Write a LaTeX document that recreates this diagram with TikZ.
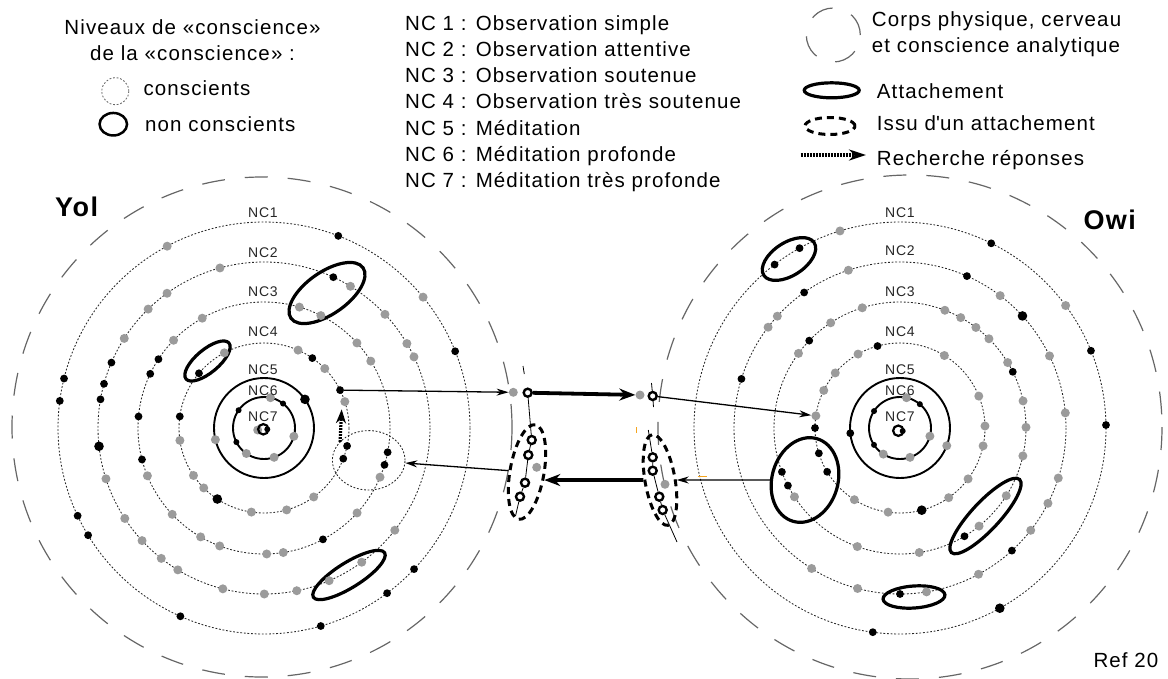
\documentclass[tikz,border=0pt]{standalone}
\usepackage{fontspec}
\setmainfont{Liberation Sans}[LetterSpace=5.5]
\usetikzlibrary{calc,shapes.geometric,arrows.meta}
\definecolor{dotgray}{RGB}{155,155,155}
\definecolor{tickorange}{RGB}{245,165,30}

\begin{document}
\begin{tikzpicture}
[x=1pt,y=-1pt,
  ringLine/.style={draw=black!85,line width=0.85pt,dash pattern=on 1.8pt off 1.8pt},
  bodyLine/.style={draw=black!60,line width=1.2pt,dash pattern=on 23pt off 20pt},
  coreRing/.style={circle,draw,line width=2.2pt,inner sep=0pt,minimum size=10.4pt},
  attach/.style={ellipse,draw,line width=3.2pt,inner sep=0pt},
  issu/.style={ellipse,draw,line width=3pt,dash pattern=on 7pt off 5pt,inner sep=0pt},
  openRing/.style={circle,draw,fill=white,line width=2.4pt,inner sep=0pt,minimum size=8pt},
  dotC/.style={circle,fill=dotgray,inner sep=0pt,minimum size=9pt},
  dotN/.style={circle,fill=black,inner sep=0pt,minimum size=7.8pt},
  dotNb/.style={dotN,minimum size=9.6pt},
  dotNs/.style={dotN,minimum size=6pt},
  thinArrow/.style={-{Stealth[length=12pt,width=7pt]},line width=1.3pt},
  thickArrow/.style={-{Stealth[length=16pt,width=12pt]},line width=3.8pt},
  searchArrow/.style={-{Stealth[length=14pt,width=10pt]},line width=3.2pt,dash pattern=on 1.8pt off 1.2pt},
  string/.style={line width=0.8pt},
  legText/.style={font=\fontsize{20.5}{24}\selectfont,inner sep=0pt,anchor=base west},
  ncLabel/.style={font=\fontsize{14}{16}\selectfont,inner sep=0pt,text=black!85},
  whoLabel/.style={font=\fontsize{27}{32}\selectfont\bfseries,inner sep=0pt,anchor=base west}]
\useasboundingbox (0,0) rectangle (1168,678);

%% centres of the two persons
\coordinate (yol) at (264,428);
\coordinate (owi) at (900,428);

%% physical body, brain and analytic mind
\draw[bodyLine] (262,427) circle (250);
\draw[bodyLine] (910,427) circle (252);

%% levels NC1 to NC4 (conscious) and NC5, NC6 (non conscious)
\foreach \r in {206,166,126,85}
{
  \draw[ringLine] (yol) circle (\r);
  \draw[ringLine] (owi) circle (\r);
}
\foreach \r in {50,31}
{
  \draw[line width=1.9pt] (yol) circle (\r);
  \draw[line width=1.9pt] (owi) circle (\r);
}

%% NC7 in the middle
\node[dotC] (yolCore) at (257.7,430) {};
\node[coreRing] (yol7) at (263.3,429.3) {};
\node[dotNs] (yolCoreN) at (267.3,429.3) {};
\node[coreRing] (owi7) at (898.3,430.7) {};
\node[dotNs] (owiCoreN) at (902.7,431) {};

%% attachments
\node[attach,minimum width=88pt,minimum height=42pt,rotate=35] (yolAttA) at (327,293) {};
\node[attach,minimum width=56pt,minimum height=23pt,rotate=40] (yolAttB) at (207.5,361) {};
\node[attach,minimum width=84pt,minimum height=25pt,rotate=32] (yolAttC) at (349,575) {};
\node[attach,minimum width=60pt,minimum height=33pt,rotate=33] (owiAttA) at (789,259) {};
\node[attach,minimum width=86pt,minimum height=66pt,rotate=74] (owiAttB) at (805,480) {};
\node[attach,minimum width=100pt,minimum height=28pt,rotate=47] (owiAttC) at (985.5,516) {};
\node[attach,minimum width=62pt,minimum height=22pt,rotate=4] (owiAttD) at (914,597) {};

%% zone searched for answers
\node[ellipse,ringLine,minimum width=72.6pt,minimum height=59.4pt,inner sep=0pt] (yolSearch) at (368.7,460.3) {};

%% thoughts of Yol, put on their level
\foreach \x/\y/\r/\kind [count=\i] in {
  168.3/248.3/206/dotC, 425.7/295/206/dotC,
  70/380/206/dotN, 66/401.7/206/dotN, 85/512.3/206/dotN, 95/531/206/dotN,
  181.7/613.3/206/dotN, 339/234/206/dotN, 458.3/350/206/dotN, 415/570/206/dotN,
  387.7/594/206/dotN, 320/623.3/206/dotN,
  220.7/270.7/166/dotC, 168.3/295/166/dotC, 151.7/312.7/166/dotC, 128.3/341/166/dotC,
  109.3/477.7/166/dotC, 125/518.3/166/dotC, 142.7/540/166/dotC, 160/560/166/dotC,
  176.7/571.7/166/dotC, 221.7/593.3/166/dotC, 351.7/284.3/166/dotC, 386.7/312.7/166/dotC,
  408.3/342.7/166/dotC, 414.3/356.7/166/dotC, 396.7/531.7/166/dotC, 365/566.7/166/dotC,
  331.7/586.7/166/dotC, 298.3/598.3/166/dotC, 264.3/601.7/166/dotC,
  111.7/362.7/166/dotN, 108.3/385/166/dotN, 104.3/400/166/dotN, 104.3/445.7/166/dotNb,
  334/275.7/166/dotN,
  201/316/126/dotC, 173.3/340/126/dotC, 149.3/475/126/dotC, 173.3/513.3/126/dotC,
  201.7/535/126/dotC, 220.7/543.3/126/dotC, 300/305/126/dotC, 321.7/314/126/dotC,
  359/341/126/dotC, 371/361/126/dotC, 379/476.7/126/dotC, 358.3/514/126/dotC,
  266.7/553.3/126/dotC, 283.3/552.7/126/dotC,
  157.7/358.7/126/dotN, 150/373.7/126/dotN, 141/416.7/126/dotN, 142.7/459.3/126/dotN,
  390/452.7/126/dotN, 387.3/465.7/126/dotN, 323.3/540/126/dotN,
  182.7/440/85/dotC, 196.7/473.3/85/dotC, 206.7/485/85/dotC, 251.7/510/85/dotC,
  225/354/85/dotC, 300/345.7/85/dotC, 324.3/369/85/dotC, 312.3/495/85/dotC,
  286.7/510/85/dotC,
  181.7/416.7/85/dotN, 219.3/496/85/dotNb, 198.3/372.7/85/dotN, 313.3/356.7/85/dotN,
  342.3/458.3/85/dotN,
  214/440/50/dotC, 305/399.3/50/dotNb,
  246/454/31/dotC, 270/400/31/dotC, 292.7/436/31/dotC, 273.3/455/31/dotC,
  239.3/410.7/31/dotNs, 234/443.3/31/dotNs, 282.7/404/31/dotNs}
{
  \node[\kind] (yolDot\i) at ($(yol)!\r pt!(\x,\y)$) {};
}
\node[dotN] (yolOut) at ($(yol)!85pt!(341.7,389.3)$) {};
\node[dotN] (yolAsk) at ($(yol)!85pt!(346,445.7)$) {};
\node[dotC] (yolBack) at ($(yol)!85pt!(347.7,400.7)$) {};

%% thoughts of Owi
\foreach \x/\y/\r/\kind [count=\i] in {
  840/231/206/dotC, 1067.3/304.3/206/dotC,
  801/250.7/206/dotN, 776.7/267.3/206/dotN, 873.3/628.3/206/dotN, 991.7/242.3/206/dotN,
  1092.7/350/206/dotN, 1106.7/425/206/dotN, 999.3/607.3/206/dotNb,
  848.3/270/166/dotC, 779/317.7/166/dotC, 771.7/330/166/dotC, 811.7/568.3/166/dotC,
  856.7/591.7/166/dotC, 1002.7/292.3/166/dotC, 1049.3/356/166/dotC, 1067.3/412.7/166/dotC,
  1062.3/479.3/166/dotC, 1049.3/504/166/dotC, 1033.3/532.3/166/dotC, 980.7/578.3/166/dotC,
  927.3/596.7/166/dotC,
  804/292.3/166/dotN, 745/380/166/dotN, 969.3/270.7/166/dotN, 1026/312.7/166/dotNb,
  1015/554/166/dotN, 900/598.3/166/dotN,
  861.7/306/126/dotC, 830/321.7/126/dotC, 799.3/354/126/dotC, 795.7/496/126/dotC,
  856.7/548.3/126/dotC, 946/307.3/126/dotC, 962.7/314/126/dotC, 978.3/324.3/126/dotC,
  990/337.7/126/dotC, 1009/361.7/126/dotC, 1024/400.7/126/dotC, 1024/427.3/126/dotC,
  1023.3/456/126/dotC, 919.3/552.7/126/dotC, 1006.7/496/126/dotC, 979/526/126/dotC,
  809.3/340.7/126/dotN, 784.3/471/126/dotN, 789/485/126/dotN, 1015/370.7/126/dotN,
  964.3/536/126/dotN,
  856.7/351.7/85/dotC, 835/372.7/85/dotC, 824.3/390.7/85/dotC, 856.7/496/85/dotC,
  888.3/510.7/85/dotC, 946.7/351.7/85/dotC, 979/396/85/dotC, 985/426/85/dotC,
  982.3/445.7/85/dotC, 967.3/478.3/85/dotC, 947.3/495.7/85/dotC,
  877.7/346.7/85/dotN, 817.3/428/85/dotN, 820.7/452.7/85/dotN, 829/470.7/85/dotN,
  921.7/510/85/dotNb,
  946.7/445.7/50/dotC, 849.3/433.3/50/dotN,
  906/400/31/dotC, 929.3/436/31/dotC, 910/457.3/31/dotC, 882.7/455/31/dotC,
  875/411.7/31/dotNs, 918.3/406/31/dotNs, 872.7/445.7/31/dotNs}
{
  \node[\kind] (owiDot\i) at ($(owi)!\r pt!(\x,\y)$) {};
}
\node[dotC] (owiIn) at ($(owi)!85pt!(817.3,416)$) {};

%% level names
\foreach \i/\yl/\yr in {1/213/212.5, 2/253/251, 3/291.7/291.7, 4/331.7/331.7,
  5/369.7/369.7, 6/390.5/390.8, 7/416.3/416.5}
{
  \node[ncLabel] (yolNC\i) at (263,\yl) {NC\i};
  \node[ncLabel] (owiNC\i) at (900,\yr) {NC\i};
}

%% between the two: what is sent and what comes back
\node[issu,minimum width=96pt,minimum height=34pt,rotate=80] (midL) at (527,472) {};
\node[issu,minimum width=92pt,minimum height=30pt,rotate=100] (midR) at (660,480) {};
\coordinate (strLa) at (523,366);
\coordinate (strLb) at (524.3,374);
\coordinate (strLc) at (515.5,516);
\coordinate (strRa) at (651.5,383);
\coordinate (strRb) at (653.5,407);
\coordinate (strRc) at (648.3,430);
\coordinate (strRd) at (677,542);
\node[dotC] (midA) at (513.3,392.3) {};
\node[openRing] (ringA) at (527.7,392.7) {};
\node[dotC] (midB) at (640,395) {};
\node[openRing] (ringB) at (652.7,396) {};
\foreach \nodename/\x/\y in {cL1/531.7/440, cL2/528.3/455, cL3/525/482.7, cL4/520/496.7,
  cR1/652.7/457.3, cR2/652.7/470.7, cR3/659.3/496.7, cR4/662.7/510}
{
  \node[openRing] (\nodename) at (\x,\y) {};
}
\node[dotC] (gL) at (536.7,467.3) {};
\node[dotC] (gR) at (665,484.3) {};
\draw[string] (strLa) -- (strLb);
\draw[string] (ringA) -- (cL1) -- (cL2) -- (cL3) -- (cL4) -- (strLc);
\draw[string] (strRa) -- (ringB) -- (strRb);
\draw[string] (strRc) -- (cR1) -- (cR2) -- (cR3) -- (cR4) -- (strRd);
\draw[tickorange,line width=1pt] (697.7,476) -- (706.7,476);
\draw[tickorange,line width=1pt] (636,427) -- (636,433);

%% arrows
\draw[thinArrow] (yolOut) -- (midA);
\draw[thickArrow] (ringA) -- (midB);
\draw[thinArrow] (ringB) -- (owiIn);
\draw[thinArrow] (owiAttB.106) -- (midR.260);
\draw[thickArrow] (midR.80) -- (midL.255);
\draw[thinArrow] (midL) -- (yolSearch);
\draw[searchArrow,shorten >=3pt] ([xshift=-7pt]yolAsk.north) -- ([xshift=-3pt]yolBack.south);

%% legend
\node[legText,anchor=base] (lgTitleA) at (192.5,34.3) {Niveaux de «conscience»};
\node[legText,anchor=base] (lgTitleB) at (192.5,60) {de la «conscience» :};
\node[circle,ringLine,draw=black!60,minimum size=27pt,inner sep=0pt] (lgC) at (115.3,91.2) {};
\node[legText] (lgCtxt) at (143.3,95.5) {conscients};
\node[ellipse,draw,line width=2.5pt,minimum width=27.5pt,minimum height=22.5pt,inner sep=0pt] (lgN) at (113.3,124.2) {};
\node[legText] (lgNtxt) at (145,131.7) {non conscients};

\foreach \i/\txt in {1/Observation simple, 2/Observation attentive,
  3/Observation soutenue, 4/Observation très soutenue, 5/Méditation,
  6/Méditation profonde, 7/Méditation très profonde}
{
  \node[legText] (lgNC\i) at (405,{30+26.3*(\i-1)}) {NC \i{} : \txt};
}

\node[circle,bodyLine,minimum size=54pt,inner sep=0pt] (lgBody) at (833.3,35) {};
\node[legText] (lgBodyA) at (871.7,26.7) {Corps physique, cerveau};
\node[legText] (lgBodyB) at (871.7,52) {et conscience analytique};
\node[attach,minimum width=55pt,minimum height=15pt] (lgAtt) at (831.7,90.3) {};
\node[legText] (lgAttTxt) at (876.7,98.3) {Attachement};
\node[issu,minimum width=50pt,minimum height=17pt] (lgIssu) at (830,126) {};
\node[legText] (lgIssuTxt) at (876.7,130) {Issu d\textquotesingle un attachement};
\coordinate (lgAskA) at (800.7,155);
\coordinate (lgAskB) at (866,155);
\draw[searchArrow,-{Stealth[length=17pt,width=11pt]}] (lgAskA) -- (lgAskB);
\node[legText] (lgAskTxt) at (876.7,165.7) {Recherche réponses};

%% names
\node[whoLabel] (yolName) at (55,216.7) {Yol};
\node[whoLabel] (owiName) at (1083.3,229.3) {Owi};
\node[legText] (refNum) at (1093.3,667.3) {Ref 20};
\end{tikzpicture}
\end{document}
